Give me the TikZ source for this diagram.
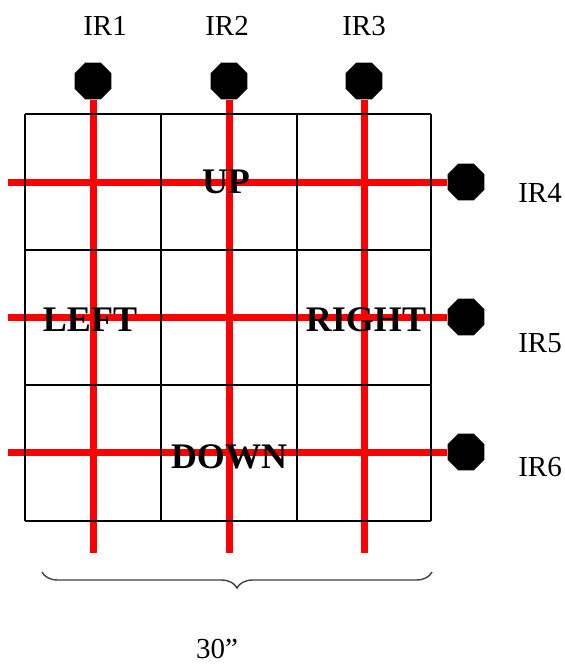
\documentclass[tikz,border=0pt]{standalone}
\usepackage{fontspec}
\setmainfont{Liberation Serif}
\usetikzlibrary{shapes.geometric, decorations.pathreplacing}

\begin{document}
\begin{tikzpicture}[
    x=1pt, y=-1pt,
    sensor/.style={
        regular polygon, regular polygon sides=8,
        fill=black, draw=none,
        minimum size=40pt, inner sep=0pt
    },
    beam/.style={draw=red, line width=7pt},
    cell/.style={draw=black, line width=1.2pt},
    irlbl/.style={font=\fontsize{29}{29}\selectfont, inner sep=0pt},
    dirlbl/.style={font=\fontsize{36}{36}\selectfont\bfseries, inner sep=0pt},
]
\useasboundingbox (0,0) rectangle (565,665);

% Top sensors: IR1-IR3 (y = 81)
\node[sensor] (ir1) at (93, 81) {};
\node[sensor] (ir2) at (229, 81) {};
\node[sensor] (ir3) at (364, 81) {};

% Right sensors: IR4-IR6 (x = 466)
\node[sensor] (ir4) at (466, 182) {};
\node[sensor] (ir5) at (466, 317) {};
\node[sensor] (ir6) at (466, 452) {};

% Free ends of the beams
\coordinate (end1) at (93, 553);
\coordinate (end2) at (229, 553);
\coordinate (end3) at (364, 553);
\coordinate (end4) at (8, 182);
\coordinate (end5) at (8, 317);
\coordinate (end6) at (8, 452);

% Vertical beams (top sensors, downward)
\draw[beam] (ir1.south) -- (end1);
\draw[beam] (ir2.south) -- (end2);
\draw[beam] (ir3.south) -- (end3);

% Horizontal beams (right sensors, leftward)
\draw[beam] (ir4.west) -- (end4);
\draw[beam] (ir5.west) -- (end5);
\draw[beam] (ir6.west) -- (end6);

% 3x3 grid of cells
\foreach \x in {25, 161, 297, 431}
    \draw[cell] (\x, 114) -- (\x, 521);
\foreach \y in {114, 250, 385, 521}
    \draw[cell] (25, \y) -- (431, \y);

% Sensor labels
\node[irlbl] (lbl1) at (105, 26) {IR1};
\node[irlbl] (lbl2) at (227, 26) {IR2};
\node[irlbl] (lbl3) at (364, 26) {IR3};
\node[irlbl] (lbl4) at (540, 193) {IR4};
\node[irlbl] (lbl5) at (540, 343) {IR5};
\node[irlbl] (lbl6) at (540, 467) {IR6};

% Direction labels
\node[dirlbl] (up) at (226, 182) {UP};
\node[dirlbl] (left) at (90, 320) {LEFT};
\node[dirlbl] (right) at (366, 320) {RIGHT};
\node[dirlbl] (down) at (229, 457) {DOWN};

% Width brace under the grid
\coordinate (braceL) at (42, 572);
\coordinate (braceR) at (432, 572);
\draw[decorate, decoration={brace, mirror, amplitude=16pt},
      line width=1.4pt, draw=black!75] (braceL) -- (braceR);
\node[irlbl] (width) at (217, 649) {30”};

\end{tikzpicture}
\end{document}
